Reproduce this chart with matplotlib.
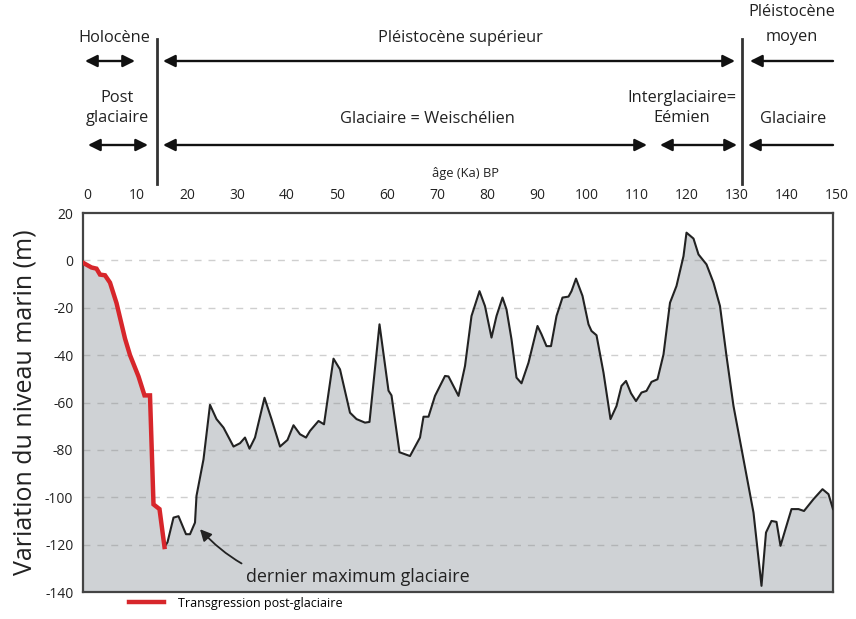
import numpy as np
import matplotlib.pyplot as plt
import matplotlib.transforms as mtransforms
from matplotlib.lines import Line2D

plt.rcParams['font.family'] = ['Open Sans', 'DejaVu Sans']
plt.rcParams['axes.unicode_minus'] = False

# niveau marin (m) en fonction de l'age (ka BP)
# partie post-glaciaire (trait rouge)
age_post = [0, 1.7, 2.7, 3.4, 4.4, 5.4, 6.7, 8.4, 9.4, 11.1, 12.3, 13.4,
            14.1, 15.3, 16.3]
niv_post = [-1, -3, -3.5, -6, -6.3, -9.4, -18, -33, -40, -49, -57, -57,
            -103, -105, -121]

# reste de la courbe
age_glac = [16.3, 16.9, 18.1, 19.1, 20.6, 21.4, 22.4, 22.7, 24.1, 25.4,
            26.7, 28.1, 30.1, 31.4, 32.4, 33.3, 34.4, 36.3, 37.7, 39.4,
            40.9, 42.1, 43.4, 44.6, 45.4, 47.1, 48.2, 50.1, 51.4, 53.4,
            54.7, 56.4, 57.3, 59.3, 61.1, 61.7, 63.3, 65.4, 67.4, 68.1,
            69.1, 70.4, 72.4, 73.1, 75.1, 76.4, 77.7, 79.3, 80.4, 81.7,
            82.7, 83.9, 84.7, 85.7, 86.7, 87.7, 89.1, 90.9, 91.7, 92.7,
            93.6, 94.7, 95.9, 97.1, 97.7, 98.6, 99.9, 101.1, 101.7, 102.7,
            104.1, 105.5, 106.7, 107.7, 108.6, 109.6, 110.6, 111.7, 112.7, 113.7,
            114.9, 116.1, 117.4, 118.7, 120.1, 120.7, 122.1, 123.1, 124.7, 126.1,
            127.4, 128.7, 130.1, 132.1, 134.1, 135.7, 136.6, 137.7, 138.7, 139.5,
            140.7, 141.7, 143.1, 144.2, 146.1, 147.9, 149.1, 150]
niv_glac = [-121, -119, -108.6, -108, -115.6, -115.6, -110.7, -99.4, -84, -61,
            -67, -70.6, -78.6, -77.2, -74.8, -79.5, -74.8, -58, -67, -78.6,
            -75.8, -69.6, -73.4, -74.8, -72, -67.8, -69.2, -41.5, -46, -64.3,
            -67, -68.5, -68.2, -27, -55, -57, -81, -82.6, -74.8, -66,
            -66, -57.2, -48.8, -49, -57.2, -44.6, -23.5, -13, -19.3, -32.6,
            -23.5, -15.7, -20.7, -33.3, -49.5, -51.9, -43.2, -27.7, -31.2, -36.2,
            -36.2, -23.5, -15.7, -15.3, -13, -7.7, -15, -27, -29.8, -31.6,
            -47.4, -67, -61.5, -53, -50.9, -56.1, -59.4, -55.8, -55.1, -51.3,
            -50.2, -39.7, -17.9, -10.8, 1.8, 11.7, 9.2, 2.5, -1.7, -9.4,
            -19.3, -40.4, -61.5, -84, -106.5, -137.4, -114.9, -110, -110.4, -120.5,
            -112, -105, -105, -105.8, -100.8, -96.6, -98.7, -105]

xticks = list(range(0, 151, 10))
yticks = list(range(20, -141, -20))
grid_levels = list(range(0, -121, -20))

# periodes (frise du haut) : (texte, debut, fin, style de fleche, centre du texte)
limites = [14.8, 131.8]
ligne1 = [("Holocène", 0.4, 10.4, "<|-|>", 6.2),
          ("Pléistocène supérieur", 16, 130.4, "<|-|>", 75.4),
          ("Pléistocène\nmoyen", 150, 133.4, "-|>", 141.8)]
ligne2 = [("Post\nglaciaire", 1, 13, "<|-|>", 6.8),
          ("Glaciaire = Weischélien", 16, 112.8, "<|-|>", 68.8),
          ("Interglaciaire=\nEémien", 115.4, 130.8, "<|-|>", 119.8),
          ("Glaciaire", 150, 133, "-|>", 142)]

W, H = 856, 619
fig = plt.figure(figsize=(W / 100, H / 100), dpi=100)
ax = fig.add_axes([83 / W, 1 - 592 / H, 750 / W, 379 / H])

age = np.array(age_post + age_glac[1:])
niv = np.array(niv_post + niv_glac[1:])
ax.fill_between(age, niv, -140, color='#cfd2d5', lw=0, zorder=1)
for g in grid_levels:
    ax.axhline(g, color='#888888', alpha=0.4, lw=1, ls=(0, (5, 5)), zorder=2)
ax.plot(age_glac, niv_glac, color='#222222', lw=1.5, zorder=3)
ax.plot(age_post, niv_post, color='#d7262b', lw=3.2, zorder=4,
        solid_joinstyle='miter')

ax.set_xlim(0, 150)
ax.set_ylim(-140, 20)
ax.set_xticks(xticks)
ax.set_yticks(yticks)
ax.xaxis.tick_top()
ax.tick_params(axis='x', length=0, pad=7.5, labelsize=10, colors='#222222')
ax.tick_params(axis='y', length=0, pad=7, labelsize=10, colors='#222222')
decal = mtransforms.ScaledTranslation(4 / 100, 0, fig.dpi_scale_trans)
for lab in ax.get_xticklabels():
    lab.set_transform(lab.get_transform() + decal)
for s in ax.spines.values():
    s.set_color('#444444')
    s.set_linewidth(1.6)
ax.set_ylabel("Variation du niveau marin (m)", fontsize=18, color='#222222',
              labelpad=5)

# annotation du dernier maximum glaciaire
ax.annotate("dernier maximum glaciaire", xy=(23.4, -113.5),
            xytext=(32.5, -133.5), fontsize=12.9, color='#222222',
            va='center', ha='left',
            arrowprops=dict(arrowstyle='-|>', color='#222222', lw=1.3,
                            mutation_scale=17,
                            shrinkA=2, shrinkB=0,
                            connectionstyle='arc3,rad=-0.3'))

# frise chronologique au-dessus du graphique
tr = mtransforms.blended_transform_factory(ax.transData, fig.transFigure)


def fy(py):
    return 1 - py / H


ax.text(76.6, fy(174), "âge (Ka) BP", transform=tr, ha='center', va='center',
        fontsize=9.3, color='#222222')
for x in limites:
    ax.add_line(Line2D([x, x], [fy(39), fy(184)], transform=tr,
                       color='#333333', lw=2, clip_on=False))

for lignes, y_txt, y_fl, esp, interl in ((ligne1, 38, 61, 13.5, 1.75),
                                         (ligne2, 119, 145, 11, 1.4)):
    for txt, a, b, style, xc in lignes:
        n = txt.count("\n")
        ax.text(xc, fy(y_txt - esp * n), txt, transform=tr, ha='center',
                va='center', fontsize=11.8, color='#222222',
                linespacing=interl)
        ax.annotate("", xy=(b, fy(y_fl)), xytext=(a, fy(y_fl)),
                    xycoords=tr, textcoords=tr,
                    arrowprops=dict(arrowstyle=style, color='#111111',
                                    lw=1.7, mutation_scale=18,
                                    shrinkA=0, shrinkB=0))

# legende
leg_line = Line2D([], [], color='#d7262b', lw=3.2)
fig.legend([leg_line], ["Transgression post-glaciaire"],
           loc='center left', bbox_to_anchor=(124 / W, fy(603)),
           frameon=False, fontsize=9, handlelength=2.8, handletextpad=1.1,
           borderaxespad=0)

fig.savefig("out.png", dpi=100)
